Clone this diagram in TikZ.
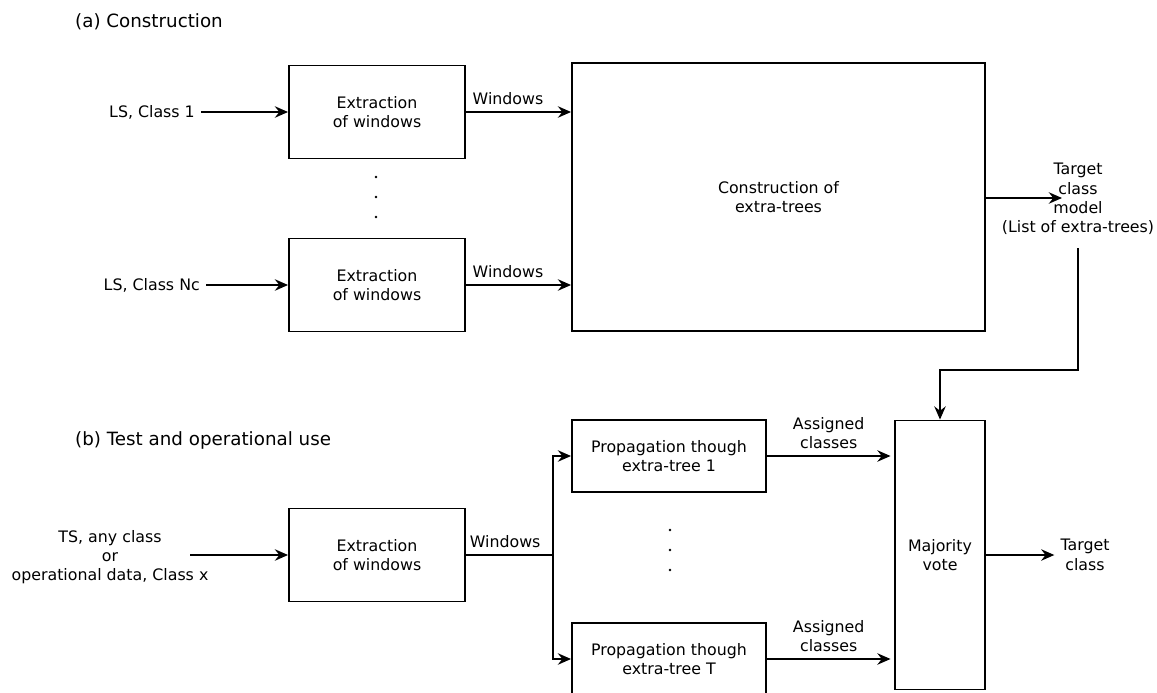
\documentclass[tikz,border=0pt]{standalone}
\usepackage{fontspec}
\setmainfont{DejaVu Sans}
\usetikzlibrary{arrows.meta, positioning}

\begin{document}
\begin{tikzpicture}[x=0.02cm, y=-0.02cm, font=\fontsize{9}{11}\selectfont,
  box/.style={draw, line width=1.1pt, align=center, inner sep=0pt},
  flow/.style={-{Stealth[length=7.5pt, width=6.5pt, inset=2.5pt]}, line width=1.1pt},
  link/.style={line width=1.1pt},
  title/.style={anchor=west, font=\fontsize{10.4}{12.5}\selectfont}]
  \useasboundingbox (0,0) rectangle (1157,693);

  % Box sizes
  \def\extw{3.52cm}
  \def\exth{1.86cm}
  \def\propw{3.88cm}
  \def\proph{1.44cm}

  % (a) Construction
  \node[title] (ta) at (69,22) {(a) Construction};

  \node[box, minimum width=\extw, minimum height=\exth] (ext1) at (377,112)
    {Extraction\\of windows};
  \node[box, minimum width=\extw, minimum height=\exth] (extn) at (377,285)
    {Extraction\\of windows};
  \node[box, minimum width=8.26cm, minimum height=5.36cm] (build) at (778.5,197)
    {Construction of\\extra-trees};

  \node[anchor=east] (ls1) at (201,112) {LS, Class 1};
  \node[anchor=east] (lsn) at (206,285) {LS, Class Nc};
  \node[align=center] (model) at (1078,199)
    {Target\\class\\model\\(List of extra-trees)};
  \coordinate (modelin) at (1062,198);
  \coordinate (modelout) at (1078,248);

  \draw[flow] (ls1) -- (ext1);
  \draw[flow] (lsn) -- (extn);
  \draw[flow] (ext1.east) -- node[pos=0.4, above] (w1) {Windows} (ext1.east -| build.west);
  \draw[flow] (extn.east) -- node[pos=0.4, above] (wn) {Windows} (extn.east -| build.west);
  \draw[flow] (build.east |- modelin) -- (modelin);

  % Vertical dots
  \foreach \y in {177,197,217} {
    \fill (376,\y) circle[radius=0.028cm];
  }

  % (b) Test and operational use
  \node[title] (tb) at (69,440) {(b) Test and operational use};

  \node[align=center] (ts) at (110,557)
    {TS, any class\\or\\operational data, Class x};
  \coordinate (tsout) at (190,555);
  \node[box, minimum width=\extw, minimum height=\exth] (extb) at (377,555)
    {Extraction\\of windows};
  \coordinate (split) at (553,555);

  \node[box, minimum width=\propw, minimum height=\proph] (prop1) at (669,456)
    {Propagation though\\extra-tree 1};
  \node[box, minimum width=\propw, minimum height=\proph] (propt) at (669,659)
    {Propagation though\\extra-tree T};
  \node[box, minimum width=1.8cm, minimum height=5.38cm] (vote) at (940,555)
    {Majority\\vote};
  \node[align=center] (target) at (1085,555) {Target\\class};

  \draw[flow] (tsout) -- (tsout -| extb.west);
  \draw[link] (extb.east) -- node[pos=0.45, above] (wb) {Windows} (split);
  \draw[flow] (split) |- (prop1.west);
  \draw[flow] (split) |- (propt.west);
  \draw[flow] (prop1.east) -- node[midway, above, align=center] (ac1)
    {Assigned\\classes} ([xshift=-2pt]prop1.east -| vote.west);
  \draw[flow] (propt.east) -- node[midway, above, align=center] (act)
    {Assigned\\classes} ([xshift=-2pt]propt.east -| vote.west);
  \draw[flow] (vote.east) -- (target.west);

  % Model feeds the vote
  \coordinate (knee) at (940,370);
  \draw[flow] (modelout) |- (knee) -- (vote.north);

  \foreach \y in {530,550,570} {
    \fill (670,\y) circle[radius=0.028cm];
  }

\end{tikzpicture}
\end{document}
